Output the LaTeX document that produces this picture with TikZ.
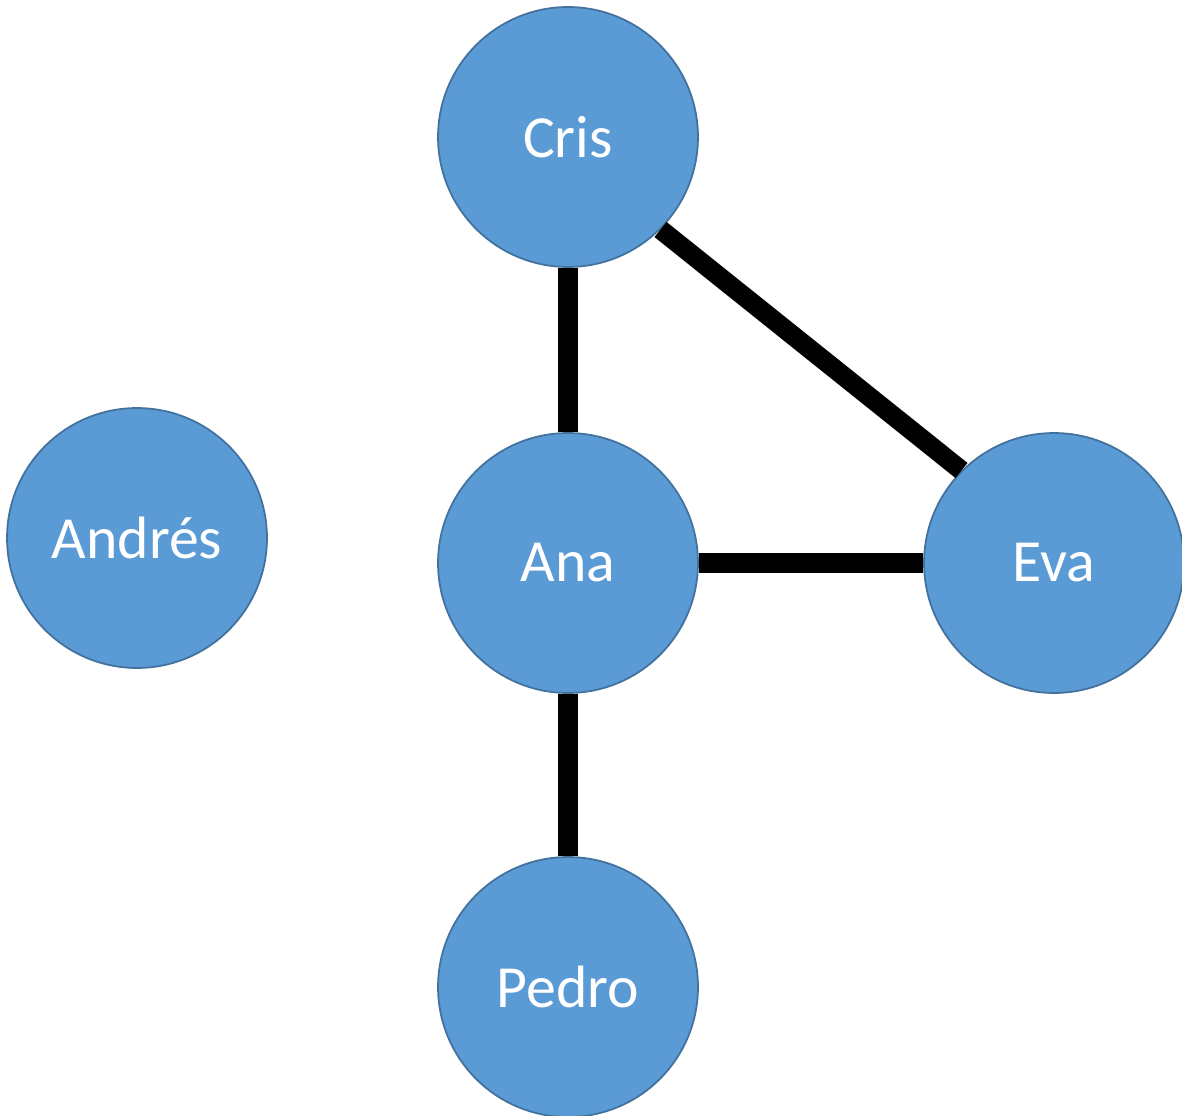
\documentclass[tikz,border=0pt]{standalone}
\usepackage{fontspec}
\setmainfont{Carlito}

\begin{document}
\begin{tikzpicture}[x=0.02cm, y=-0.02cm]
		\definecolor{nodefill}{RGB}{91,155,213}
		\definecolor{nodeline}{RGB}{65,113,156}
		\tikzset{person/.style={circle, fill=nodefill, draw=nodeline, line width=1pt,
				minimum size=5.2cm, inner sep=0pt, text=white,
				font=\fontsize{34}{40}\selectfont}}
		\tikzset{tie/.style={line width=11pt, black}}

		\useasboundingbox (0,0) rectangle (1182,1115);

		% people
		\node[person] (cris) at (568,137) {Cris};
		\node[person] (andres) at (137,538) {Andrés};
		\node[person] (ana) at (568,563) {Ana};
		\node[person] (eva) at (1054,563) {Eva};
		\node[person] (pedro) at (568,987) {Pedro};

		% friendships
		\draw[tie] (cris) -- (ana);
		\draw[tie] (cris.south east) -- (eva.north west);
		\draw[tie] (ana) -- (eva);
		\draw[tie] (ana) -- (pedro);
	\end{tikzpicture}
\end{document}
